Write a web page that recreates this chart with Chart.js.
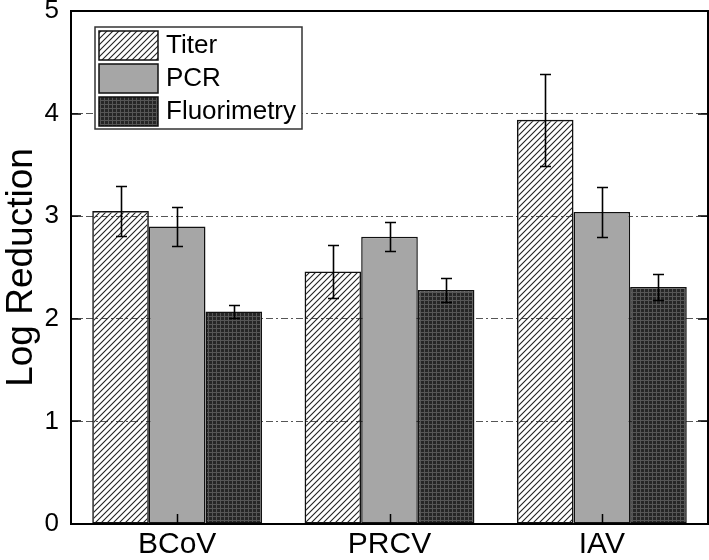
<!DOCTYPE html>
<html>
<head>
<meta charset="utf-8">
<script src="https://cdn.jsdelivr.net/npm/chart.js@4"></script>
<style>
  body { margin: 0; background: #fff; }
  canvas { display: block; }
</style>
</head>
<body>
<canvas id="grafico" width="709" height="560"></canvas>
<script>
// dados
const categorias = ['BCoV', 'PRCV', 'IAV']
const rotulosSeries = ['Titer', 'PCR', 'Fluorimetry']
const titer = [3.05, 2.46, 3.94]
const titerErro = [0.24, 0.26, 0.45]
const pcr = [2.90, 2.80, 3.04]
const pcrErro = [0.19, 0.14, 0.245]
const fluorimetria = [2.07, 2.28, 2.31]
const fluorimetriaErro = [0.06, 0.12, 0.125]
const ticksY = [0, 1, 2, 3, 4, 5]

const fonte = '"Liberation Sans", Arial, sans-serif'

// padrão de hachura diagonal (titer)
const criarHachura = () => {
  const s = 6
  const c = document.createElement('canvas')
  c.width = s
  c.height = s
  const g = c.getContext('2d')
  g.strokeStyle = '#222'
  g.lineWidth = 1.1
  g.beginPath()
  g.moveTo(0, s); g.lineTo(s, 0)
  g.moveTo(-1, 1); g.lineTo(1, -1)
  g.moveTo(s - 1, s + 1); g.lineTo(s + 1, s - 1)
  g.stroke()
  return g.createPattern(c, 'repeat')
}

// padrão de grade escura (fluorimetria)
const criarGrade = () => {
  const s = 4
  const c = document.createElement('canvas')
  c.width = s
  c.height = s
  const g = c.getContext('2d')
  g.fillStyle = '#262626'
  g.fillRect(0, 0, s, s)
  g.fillStyle = '#565656'
  g.fillRect(0, 0, s, 1)
  g.fillRect(0, 0, 1, s)
  return g.createPattern(c, 'repeat')
}

const preenchimentos = [criarHachura(), '#a6a6a6', criarGrade()]

// barras de erro desenhadas sobre as barras
const barrasErro = {
  id: 'barrasErro',
  afterDatasetsDraw(chart) {
    const { ctx, scales: { y } } = chart
    ctx.save()
    ctx.strokeStyle = '#000'
    ctx.lineWidth = 1.6
    chart.data.datasets.forEach((ds, i) => {
      chart.getDatasetMeta(i).data.forEach((barra, j) => {
        const v = ds.data[j]
        const e = ds.erros[j]
        const yTopo = Math.round(y.getPixelForValue(v + e)) + 0.5
        const yBase = Math.round(y.getPixelForValue(v - e)) + 0.5
        const x = Math.round(barra.x) + 0.5
        ctx.beginPath()
        ctx.moveTo(x, yTopo); ctx.lineTo(x, yBase)
        ctx.moveTo(x - 5.5, yTopo); ctx.lineTo(x + 5.5, yTopo)
        ctx.moveTo(x - 5.5, yBase); ctx.lineTo(x + 5.5, yBase)
        ctx.stroke()
      })
    })
    ctx.restore()
  },
}

// moldura, ticks internos e legenda
const moldura = {
  id: 'moldura',
  afterDraw(chart) {
    const { ctx, chartArea: a, scales: { x, y } } = chart
    ctx.save()
    ctx.strokeStyle = '#000'
    ctx.lineWidth = 2
    ctx.strokeRect(a.left, a.top, a.right - a.left, a.bottom - a.top)
    ctx.beginPath()
    ticksY.forEach(t => {
      const py = Math.round(y.getPixelForValue(t))
      ctx.moveTo(a.left, py); ctx.lineTo(a.left + 10, py)
      ctx.moveTo(a.right, py); ctx.lineTo(a.right - 10, py)
    })
    categorias.forEach((_, j) => {
      const px = Math.round(x.getPixelForValue(j)) + 0.5
      ctx.moveTo(px, a.bottom); ctx.lineTo(px, a.bottom - 10)
    })
    ctx.lineWidth = 1.5
    ctx.stroke()

    // legenda
    const lx = a.left + 24
    const ly = a.top + 16
    ctx.fillStyle = '#fff'
    ctx.fillRect(lx, ly, 207, 102)
    ctx.strokeStyle = '#333'
    ctx.lineWidth = 1.5
    ctx.strokeRect(lx, ly, 207, 102)
    chart.data.datasets.forEach((ds, i) => {
      const sy = ly + 4 + i * 33
      ctx.fillStyle = '#fff'
      ctx.fillRect(lx + 4, sy, 59, 29)
      ctx.fillStyle = ds.backgroundColor
      ctx.fillRect(lx + 4, sy, 59, 29)
      ctx.strokeStyle = '#111'
      ctx.strokeRect(lx + 4, sy, 59, 29)
      ctx.fillStyle = '#000'
      ctx.font = `26px ${fonte}`
      ctx.textBaseline = 'middle'
      ctx.textAlign = 'left'
      ctx.fillText(ds.label, lx + 71, sy + 15)
    })
    ctx.restore()
  },
}

const series = [titer, pcr, fluorimetria]
const erros = [titerErro, pcrErro, fluorimetriaErro]

const contexto = document.getElementById('grafico').getContext('2d')
const grafico = new Chart(contexto, {
  type: 'bar',
  data: {
    labels: categorias,
    datasets: rotulosSeries.map((rotulo, i) => ({
      label: rotulo,
      data: series[i],
      erros: erros[i],
      backgroundColor: preenchimentos[i],
      borderColor: '#111',
      borderWidth: 1.5,
      borderSkipped: false,
      categoryPercentage: 0.8,
      barPercentage: 1.0,
    })),
  },
  options: {
    responsive: false,
    animation: false,
    devicePixelRatio: 1,
    layout: { padding: { left: 0, top: 11, right: 1, bottom: 0 } },
    plugins: {
      legend: { display: false },
      tooltip: { enabled: false },
    },
    scales: {
      x: {
        grid: { display: false, drawTicks: false },
        border: { display: false },
        ticks: { color: '#000', padding: 3, font: { family: fonte, size: 30 } },
        afterFit: s => {
          s.height = 36
          s.paddingLeft = 0
          s.paddingRight = 0
        },
      },
      y: {
        min: 0,
        max: 5,
        ticks: {
          stepSize: 1,
          color: '#000',
          padding: 12,
          font: { family: fonte, size: 26 },
        },
        grid: {
          drawTicks: false,
          lineWidth: 1,
          color: c => (c.tick && (c.tick.value === 0 || c.tick.value === 5) ? 'rgba(0,0,0,0)' : '#555'),
        },
        border: { display: false, dash: [7, 3, 2, 3] },
        title: {
          display: true,
          text: 'Log Reduction',
          color: '#000',
          padding: { top: 0, bottom: 0 },
          font: { family: fonte, size: 37 },
        },
        afterFit: s => {
          s.width = 71
          s.paddingTop = 0
          s.paddingBottom = 0
        },
      },
    },
  },
  plugins: [barrasErro, moldura],
})
</script>
</body>
</html>
